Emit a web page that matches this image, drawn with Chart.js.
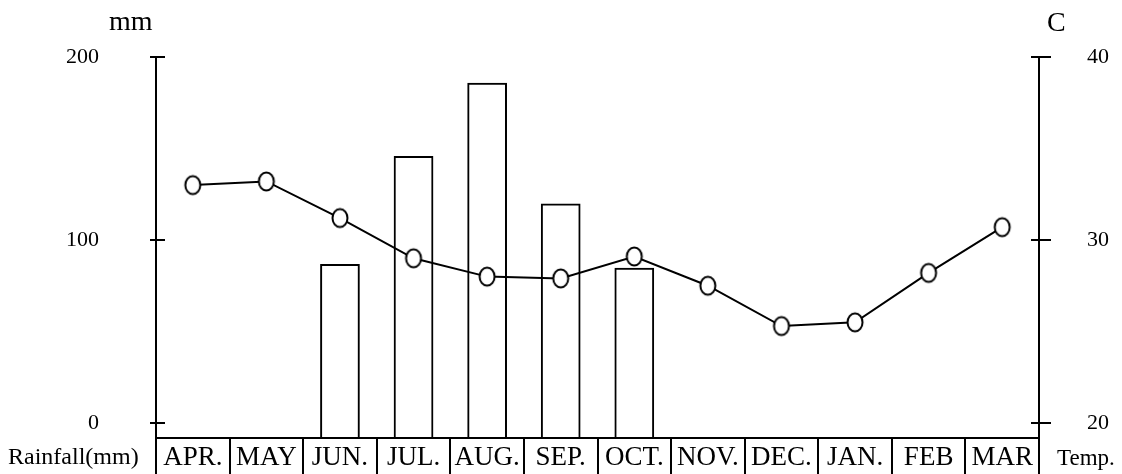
<!DOCTYPE html>
<html>
<head>
<meta charset="utf-8">
<script src="https://cdn.jsdelivr.net/npm/chart.js@4.4.0/dist/chart.umd.min.js"></script>
<style>
  body { margin: 0; background: #fff; }
  #wrap { width: 1122px; height: 474px; }
</style>
</head>
<body>
<div id="wrap"><canvas id="climateChart" width="1122" height="474"></canvas></div>
<script>
// Data
const months = ["APR.", "MAY", "JUN.", "JUL.", "AUG.", "SEP.", "OCT.", "NOV.", "DEC.", "JAN.", "FEB", "MAR"];
// no bar drawn for the dry months
const rainfall = [null, null, 87, 146, 186, 120, 85, null, null, null, null, null];
const temperature = [33.0, 33.2, 31.2, 29.0, 28.0, 27.9, 29.1, 27.5, 25.3, 25.5, 28.2, 30.7];
const rainTicks = [0, 100, 200];
const tempTicks = [20, 30, 40];

const FONT = "'Liberation Serif', 'Times New Roman', serif";

// open ellipse marker
const marker = document.createElement("canvas");
marker.width = 20;
marker.height = 23;
(function () {
  const c = marker.getContext("2d");
  c.beginPath();
  c.ellipse(10, 11.5, 7.5, 9, 0, 0, Math.PI * 2);
  c.fillStyle = "#fff";
  c.fill();
  c.lineWidth = 2;
  c.strokeStyle = "#000";
  c.stroke();
})();

// crossing tick marks + corner captions
const extras = {
  id: "extras",
  afterDraw(chart) {
    const ctx = chart.ctx;
    const yl = chart.scales.y;
    const yr = chart.scales.y1;
    ctx.save();
    ctx.strokeStyle = "#000";
    ctx.lineWidth = 2;
    rainTicks.forEach((v) => {
      const py = Math.round(yl.getPixelForValue(v));
      ctx.beginPath();
      ctx.moveTo(yl.right - 6, py);
      ctx.lineTo(yl.right + 9, py);
      ctx.stroke();
    });
    tempTicks.forEach((v) => {
      const py = Math.round(yr.getPixelForValue(v));
      ctx.beginPath();
      ctx.moveTo(yr.left - 8, py);
      ctx.lineTo(yr.left + 12, py);
      ctx.stroke();
    });
    ctx.fillStyle = "#000";
    ctx.textBaseline = "alphabetic";
    ctx.textAlign = "left";
    ctx.font = "28px " + FONT;
    ctx.fillText("mm", 109, 30);
    ctx.fillText("C", 1047, 31);
    ctx.font = "24px " + FONT;
    ctx.fillText("Rainfall(mm)", 8, 464);
    ctx.font = "23px " + FONT;
    ctx.fillText("Temp.", 1057, 465);
    ctx.restore();
  },
};

const ctx = document.getElementById("climateChart").getContext("2d");
new Chart(ctx, {
  data: {
    labels: months,
    datasets: [
      {
        type: "line",
        label: "Temp.",
        data: temperature,
        yAxisID: "y1",
        borderColor: "#000",
        borderWidth: 2,
        tension: 0,
        pointStyle: marker,
        order: 0,
      },
      {
        type: "bar",
        label: "Rainfall(mm)",
        data: rainfall,
        yAxisID: "y",
        base: -8,
        backgroundColor: "rgba(0,0,0,0)",
        borderColor: "#000",
        borderWidth: 2,
        barPercentage: 0.54,
        categoryPercentage: 1,
        order: 1,
      },
    ],
  },
  options: {
    responsive: false,
    animation: false,
    layout: { padding: { top: 57, left: 0, right: 0, bottom: 0 } },
    plugins: {
      legend: { display: false },
      tooltip: { enabled: false },
    },
    scales: {
      x: {
        offset: true,
        grid: {
          offset: true,
          drawOnChartArea: false,
          drawTicks: true,
          tickLength: 36,
          color: "#000",
          lineWidth: 2,
        },
        border: { display: true, color: "#000", width: 2 },
        ticks: {
          color: "#000",
          font: { family: FONT, size: 27 },
          padding: -32,
          autoSkip: false,
          maxRotation: 0,
          minRotation: 0,
        },
        afterFit: (scale) => {
          scale.height = 36;
        },
      },
      y: {
        position: "left",
        min: -8,
        max: 200,
        afterBuildTicks: (scale) => {
          scale.ticks = rainTicks.map((v) => ({ value: v }));
        },
        // invisible tick marks just push the labels away from the axis
        grid: { display: true, drawOnChartArea: false, drawTicks: true, tickLength: 55, color: "rgba(0,0,0,0)" },
        border: { display: true, color: "#000", width: 2 },
        ticks: {
          color: "#000",
          font: { family: FONT, size: 22 },
          padding: 2,
        },
        afterFit: (scale) => {
          scale.width = 156;
        },
      },
      y1: {
        position: "right",
        min: 19.18,
        max: 40,
        afterBuildTicks: (scale) => {
          scale.ticks = tempTicks.map((v) => ({ value: v }));
        },
        grid: { display: true, drawOnChartArea: false, drawTicks: true, tickLength: 46, color: "rgba(0,0,0,0)" },
        border: { display: true, color: "#000", width: 2 },
        ticks: {
          color: "#000",
          font: { family: FONT, size: 22 },
          padding: 2,
        },
        afterFit: (scale) => {
          scale.width = 83;
        },
      },
    },
  },
  plugins: [extras],
});
</script>
</body>
</html>
